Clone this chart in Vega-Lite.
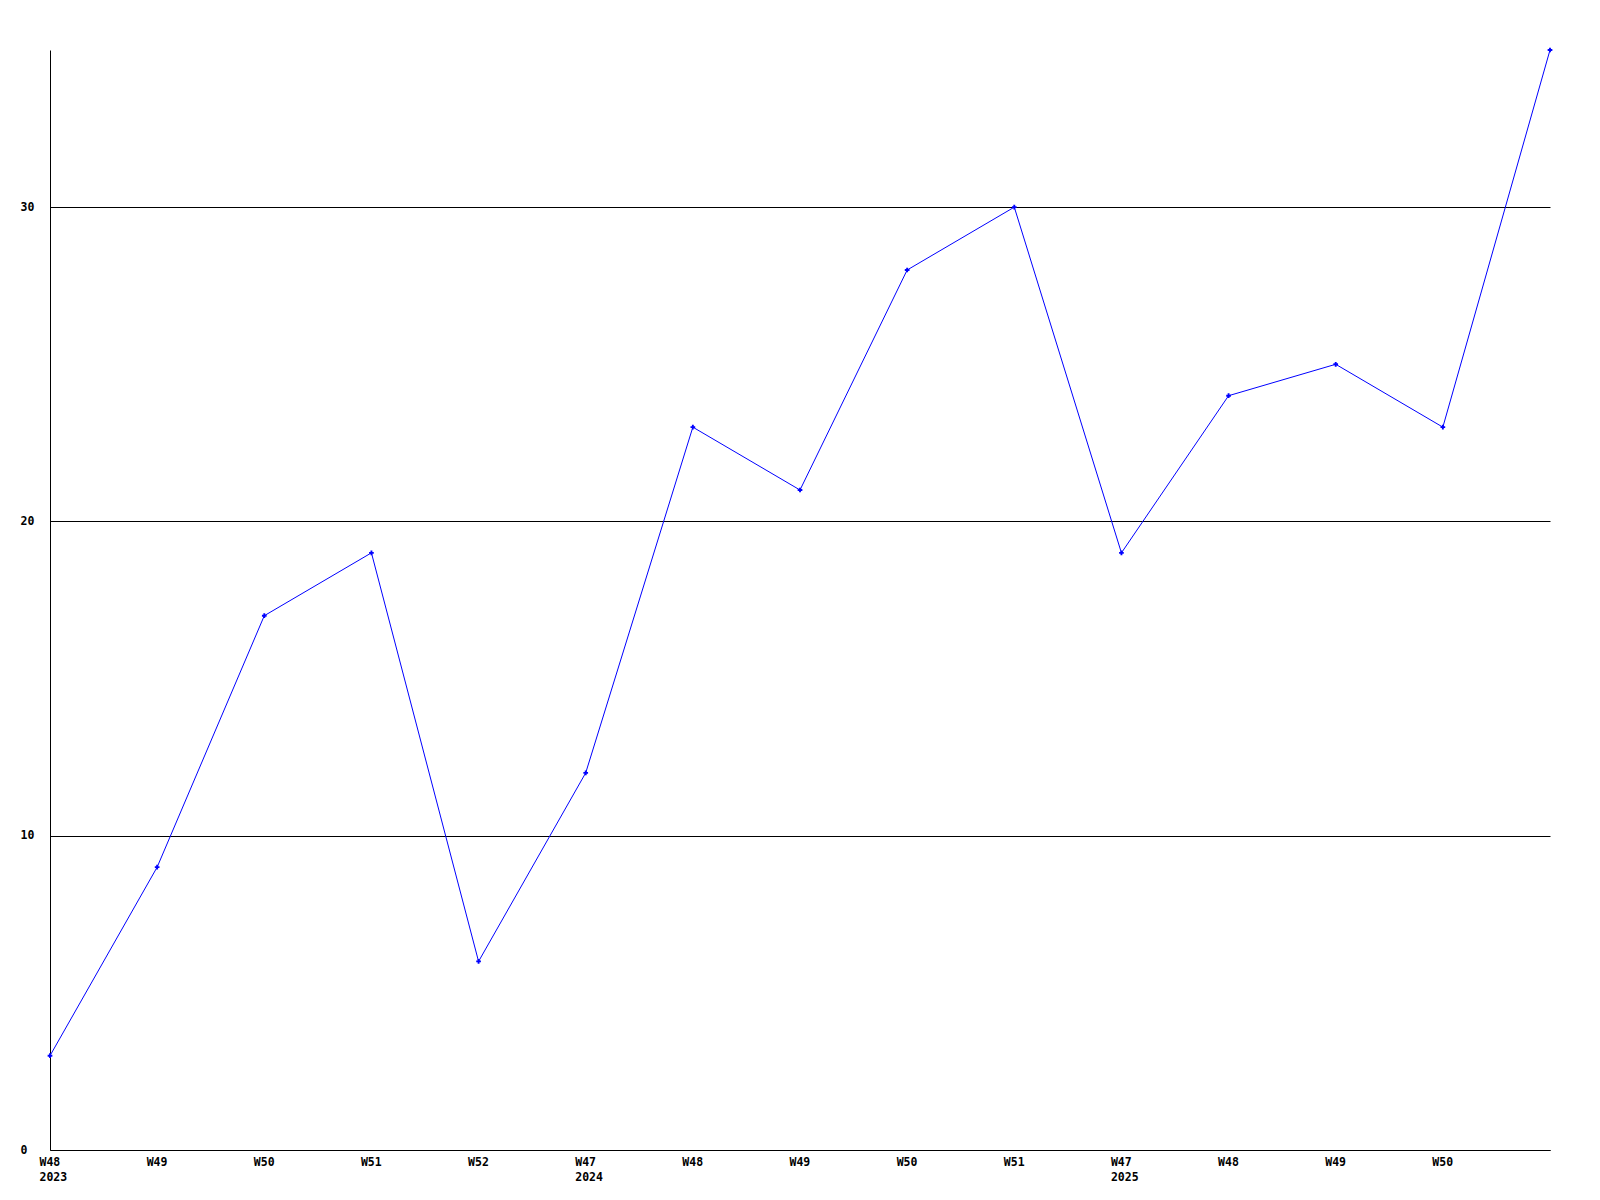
{
  "$schema": "https://vega.github.io/schema/vega-lite/v6.json",
  "autosize": {"type": "none"},
  "width": 1500,
  "height": 1100,
  "padding": {"left": 50, "top": 50, "right": 50, "bottom": 50},
  "background": "white",
  "config": {
    "view": {"stroke": null},
    "axis": {"labelFont": "DejaVu Sans Mono", "labelFontWeight": "bold", "labelFontSize": 11.5, "labelColor": "black"}
  },
  "data": {
    "values": [
      {"i": 0, "label": "W48|2023", "count": 3},
      {"i": 1, "label": "W49", "count": 9},
      {"i": 2, "label": "W50", "count": 17},
      {"i": 3, "label": "W51", "count": 19},
      {"i": 4, "label": "W52", "count": 6},
      {"i": 5, "label": "W47|2024", "count": 12},
      {"i": 6, "label": "W48", "count": 23},
      {"i": 7, "label": "W49", "count": 21},
      {"i": 8, "label": "W50", "count": 28},
      {"i": 9, "label": "W51", "count": 30},
      {"i": 10, "label": "W47|2025", "count": 19},
      {"i": 11, "label": "W48", "count": 24},
      {"i": 12, "label": "W49", "count": 25},
      {"i": 13, "label": "W50", "count": 23},
      {"i": 14, "label": "", "count": 35}
    ]
  },
  "encoding": {
    "x": {
      "field": "i", "type": "quantitative",
      "scale": {"domain": [0, 14], "nice": false, "zero": false},
      "axis": {
        "title": null, "values": [0,1,2,3,4,5,6,7,8,9,10,11,12,13],
        "labelExpr": "split(['W48|2023','W49','W50','W51','W52','W47|2024','W48','W49','W50','W51','W47|2025','W48','W49','W50'][datum.value], '|')",
        "labelAlign": "left", "labelOffset": -11, "labelPadding": 6, "ticks": false,
        "grid": false, "domainColor": "black", "domainWidth": 1, "labelLineHeight": 15,
        "labelBaseline": "top", "labelFlush": false, "labelOverlap": false
      }
    },
    "y": {
      "field": "count", "type": "quantitative",
      "scale": {"domain": [0, 35], "nice": false},
      "axis": {
        "title": null, "values": [0, 10, 20, 30], "ticks": false,
        "grid": true, "gridColor": "black", "gridOpacity": 1, "gridWidth": 1,
        "domainColor": "black", "domainWidth": 1,
        "labelAlign": "left", "labelPadding": 30, "labelBaseline": "middle", "labelFlush": false
      }
    }
  },
  "layer": [
    {"mark": {"type": "line", "color": "#0000ff", "strokeWidth": 1}},
    {"mark": {"type": "point", "shape": "cross", "filled": true, "color": "#0000ff", "size": 22, "opacity": 1}}
  ]
}
